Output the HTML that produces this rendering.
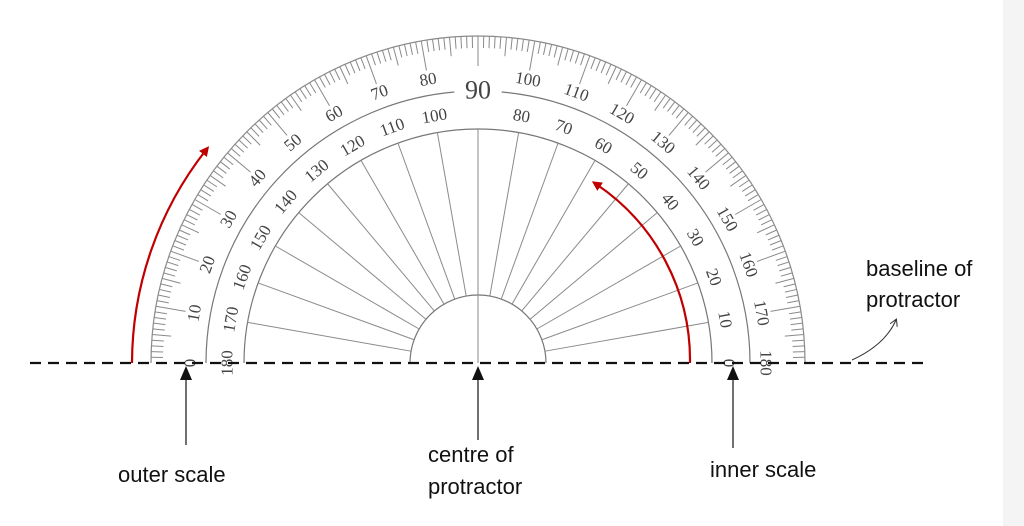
<!DOCTYPE html>
<html><head><meta charset="utf-8"><style>
html,body{margin:0;padding:0;background:#fff;}
svg{display:block;}
.lab{font-family:"Liberation Sans",sans-serif;font-size:22px;fill:#111;}
</style></head><body>
<svg id="s" width="1024" height="526" viewBox="0 0 1024 526" xmlns="http://www.w3.org/2000/svg">
<defs>
<marker id="ra" markerWidth="10" markerHeight="10" refX="5" refY="5" orient="auto" markerUnits="userSpaceOnUse"><path d="M0,0 L10,5 L0,10 Z" fill="#c00000"/></marker>
<marker id="ka" markerWidth="8" markerHeight="8" refX="6" refY="4" orient="auto" markerUnits="userSpaceOnUse"><path d="M0,0 L7,4 L0,8" fill="none" stroke="#333" stroke-width="1"/></marker>
</defs>
<rect x="1003" y="0" width="21" height="526" fill="#f4f4f4"/>
<g id="p" stroke="#8a8a8a" fill="none" stroke-width="1.2"></g>
<g id="t" font-family="Liberation Serif, serif" fill="#444" font-size="17" text-anchor="middle" dominant-baseline="central"></g>
<line x1="30" y1="363" x2="930" y2="363" stroke="#111" stroke-width="2.2" stroke-dasharray="11,7"/>
<path d="M132,363 A346,346 0 0 1 206,150" fill="none" stroke="#c00000" stroke-width="2.2" marker-end="url(#ra)"/>
<path d="M690,363 A212,212 0 0 0 596,184" fill="none" stroke="#c00000" stroke-width="2.2" marker-end="url(#ra)"/>
<g stroke="#111" stroke-width="1.2">
<line x1="186" y1="445" x2="186" y2="378"/><line x1="478" y1="440" x2="478" y2="378"/><line x1="733" y1="448" x2="733" y2="378"/>
</g>
<g fill="#111">
<path d="M186,366 L180,380 L192,380Z"/><path d="M478,366 L472,380 L484,380Z"/><path d="M733,366 L727,380 L739,380Z"/>
</g>
<path d="M852,360 Q885,345 896,320" fill="none" stroke="#333" stroke-width="1" marker-end="url(#ka)"/>
<text class="lab" x="118" y="482">outer scale</text>
<text class="lab" x="428" y="462">centre of</text>
<text class="lab" x="428" y="494">protractor</text>
<text class="lab" x="710" y="477">inner scale</text>
<text class="lab" x="866" y="276">baseline of</text>
<text class="lab" x="866" y="307">protractor</text>
</svg>
<script>
var cx=478,cy=363,NS="http://www.w3.org/2000/svg";
var p=document.getElementById('p'),t=document.getElementById('t');
function el(g,n,a){var e=document.createElementNS(NS,n);for(var k in a)e.setAttribute(k,a[k]);g.appendChild(e);return e;}
function pt(r,d){var a=d*Math.PI/180;return [cx-r*Math.cos(a),cy-r*Math.sin(a)];}
function arc(r,a1,a2){var s=pt(r,a1),e=pt(r,a2);return "M"+s[0]+","+s[1]+" A"+r+","+r+" 0 0 1 "+e[0]+","+e[1];}
el(p,'path',{d:arc(327,0,180)});
el(p,'path',{d:arc(272,0,85),'stroke':'#777'});el(p,'path',{d:arc(272,95,180),'stroke':'#777'});
el(p,'path',{d:arc(234,0,180),'stroke':'#777'});
el(p,'path',{d:arc(68,0,180),'stroke':'#777'});
for(var i=0;i<=180;i++){var L=(i%10==0)?30:(i%5==0)?19:12;if(i==0||i==180)continue;var a=pt(327,i),b=pt(327-L,i);el(p,'line',{x1:a[0],y1:a[1],x2:b[0],y2:b[1],'stroke-width':1});}
for(var i=10;i<180;i+=10){var a=pt(234,i),b=pt(68,i);el(p,'line',{x1:a[0],y1:a[1],x2:b[0],y2:b[1],'stroke-width':1});}
var a=pt(68,90);el(p,'line',{x1:cx,y1:cy,x2:a[0],y2:a[1],'stroke-width':1});
for(var i=0;i<=180;i+=10){
 var q=pt(288,i),rot=i-90;
 if(i==90){el(t,'text',{x:cx,y:cy-273,'font-size':26}).textContent='90';continue;}
 var e=el(t,'text',{x:q[0],y:q[1],transform:'rotate('+rot+' '+q[0]+' '+q[1]+')'});e.textContent=i;
 var q2=pt(251,i);var e2=el(t,'text',{x:q2[0],y:q2[1],transform:'rotate('+rot+' '+q2[0]+' '+q2[1]+')'});e2.textContent=180-i;
}
</script>
</body></html>
